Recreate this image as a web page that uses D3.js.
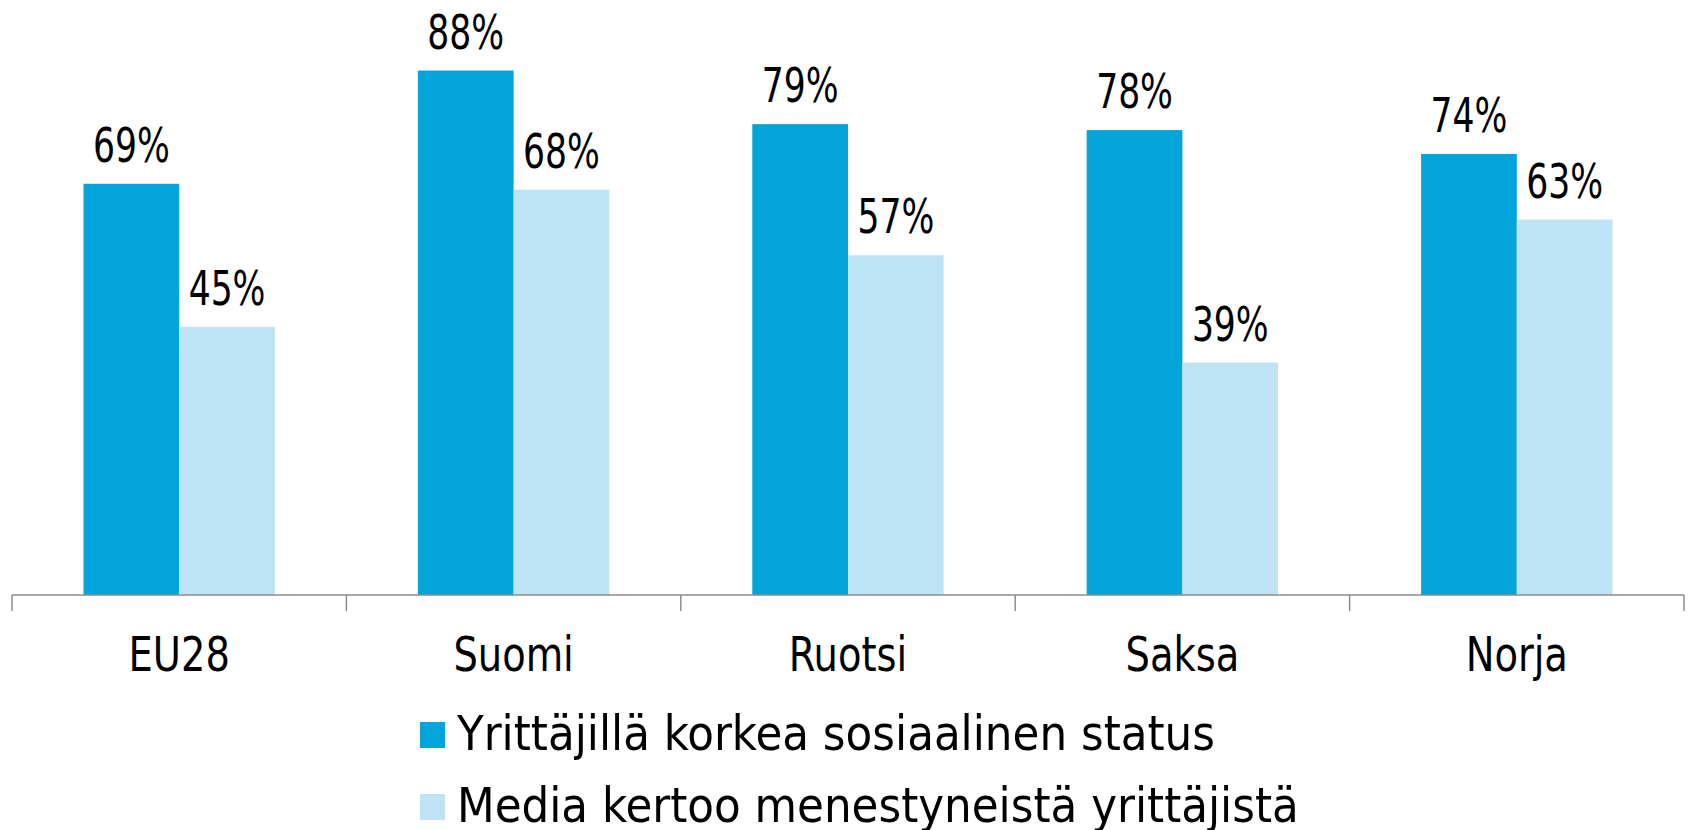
<!DOCTYPE html>
<html lang="fi">
<head>
<meta charset="UTF-8">
<title>Yrittäjien status</title>
<script src="https://cdn.jsdelivr.net/npm/d3@7"></script>
<style>
  body { margin: 0; background: #fff; }
  svg text { font-family: "DejaVu Sans Condensed", "DejaVu Sans", sans-serif; fill: #000; }
  .value { font-size: 48px; }
  .cat { font-size: 48px; }
  .legend { font-size: 48.5px; }
</style>
</head>
<body>
<script>
const categories = ["EU28", "Suomi", "Ruotsi", "Saksa", "Norja"];
const seriesNames = ["Yrittäjillä korkea sosiaalinen status", "Media kertoo menestyneistä yrittäjistä"];
const statusValues = [69, 88, 79, 78, 74];
const mediaValues = [45, 68, 57, 39, 63];
const colors = ["#03a4da", "#bee3f5"];

const width = 1692, height = 830;
const baseY = 595;

const svg = d3.select("body").append("svg")
    .attr("width", width)
    .attr("height", height);

const x = d3.scaleBand().domain(categories).range([12, 1684]);
const x1 = d3.scaleBand().domain([0, 1]).range([0, x.bandwidth()]).paddingOuter(0.747);
const y = d3.scaleLinear().domain([0, 100]).range([baseY, -1]);

const rows = categories.map((c, i) => ({ cat: c, vals: [statusValues[i], mediaValues[i]] }));

const group = svg.selectAll("g.cat-group")
    .data(rows)
    .enter().append("g")
    .attr("class", "cat-group")
    .attr("transform", d => `translate(${x(d.cat)},0)`);

group.selectAll("rect")
    .data(d => d.vals.map((v, k) => ({ v, k })))
    .enter().append("rect")
    .attr("x", d => x1(d.k))
    .attr("y", d => y(d.v))
    .attr("width", x1.bandwidth())
    .attr("height", d => baseY - y(d.v))
    .attr("fill", d => colors[d.k]);

// value labels, squeezed a bit to get the narrow look of the original
group.selectAll("text.value")
    .data(d => d.vals.map((v, k) => ({ v, k })))
    .enter().append("text")
    .attr("class", "value")
    .attr("transform", d => `translate(${x1(d.k) + x1.bandwidth() / 2},${y(d.v) - 22}) scale(0.8,1)`)
    .attr("text-anchor", "middle")
    .text(d => d.v + "%");

// axis line with ticks at the category boundaries
const edges = categories.map(c => x(c)).concat([x.range()[1]]);
svg.append("line")
    .attr("x1", x.range()[0]).attr("x2", x.range()[1])
    .attr("y1", baseY).attr("y2", baseY)
    .attr("stroke", "#8c8c8c").attr("stroke-width", 1.5);
svg.selectAll("line.tick")
    .data(edges)
    .enter().append("line")
    .attr("class", "tick")
    .attr("x1", d => d).attr("x2", d => d)
    .attr("y1", baseY).attr("y2", baseY + 16)
    .attr("stroke", "#8c8c8c").attr("stroke-width", 1.5);

svg.selectAll("text.cat")
    .data(categories)
    .enter().append("text")
    .attr("class", "cat")
    .attr("transform", d => `translate(${x(d) + x.bandwidth() / 2},671) scale(0.89,1)`)
    .attr("text-anchor", "middle")
    .text(d => d);

// legend
const legend = svg.selectAll("g.legend-item")
    .data(seriesNames)
    .enter().append("g")
    .attr("class", "legend-item")
    .attr("transform", (d, i) => `translate(420,${722 + i * 72})`);

legend.append("rect")
    .attr("width", 25)
    .attr("height", 26)
    .attr("fill", (d, i) => colors[i]);

legend.append("text")
    .attr("class", "legend")
    .attr("x", 37)
    .attr("y", 28)
    .text(d => d);
</script>
</body>
</html>
